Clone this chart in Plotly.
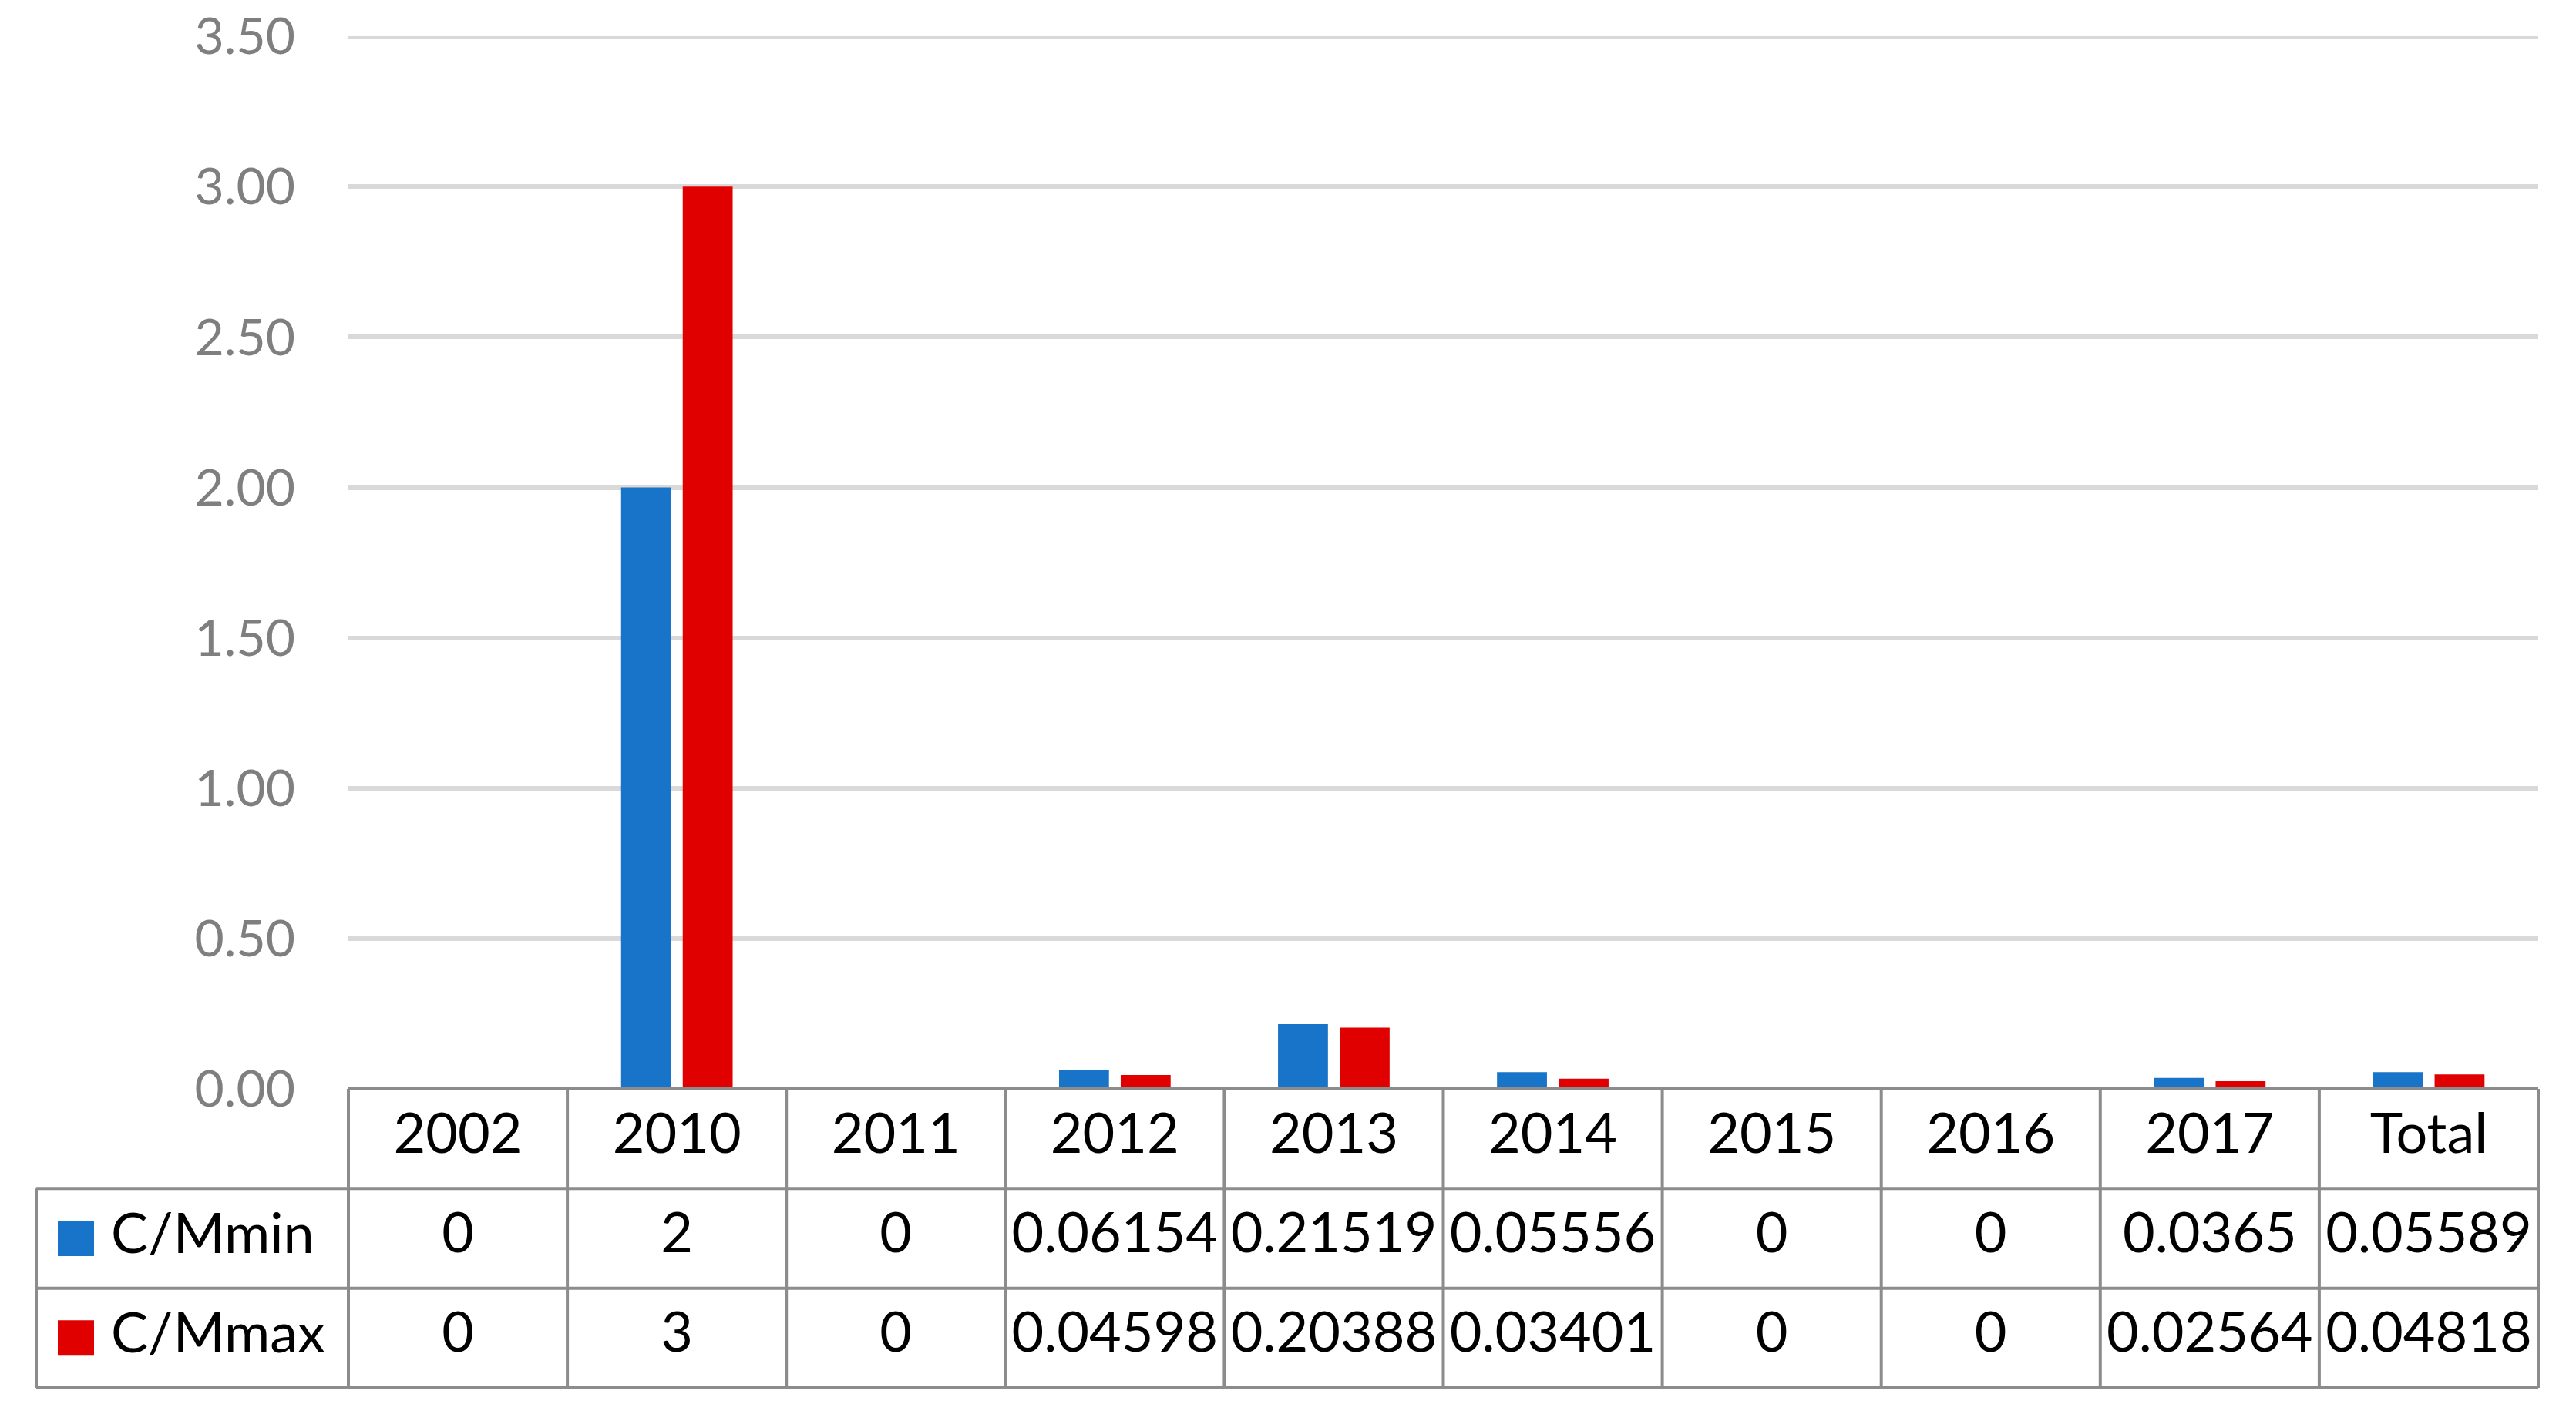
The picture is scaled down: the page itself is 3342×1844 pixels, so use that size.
import plotly.graph_objects as go

categories = ["2002", "2010", "2011", "2012", "2013", "2014", "2015", "2016", "2017", "Total"]
series_names = ["C/Mmin", "C/Mmax"]
cmin_values = [0, 2, 0, 0.06154, 0.21519, 0.05556, 0, 0, 0.0365, 0.05589]
cmax_values = [0, 3, 0, 0.04598, 0.20388, 0.03401, 0, 0, 0.02564, 0.04818]
y_ticks = [0, 0.5, 1.0, 1.5, 2.0, 2.5, 3.0, 3.5]

BLUE = "#1874C9"
RED = "#E00000"
GRID = "#D9D9D9"
BORDER = "#8C8C8C"
FONT = "Lato"

W, H = 3342, 1844
OFF = 8  # page body margin
ML, MR, MT, MB = 452 - OFF, 49 + OFF, 47 - OFF, 43 + OFF
plot_h = H - MT - MB
table_px = 388
split = table_px / plot_h
plot_w = W - ML - MR
left_col = (47 - 452) / plot_w  # left edge of legend column in x-domain units

fig = go.Figure()
series_vals = [cmin_values, cmax_values]
colors = [BLUE, RED]
for name, vals, col in zip(series_names, series_vals, colors):
    fig.add_trace(go.Bar(x=categories, y=vals, name=name, marker=dict(color=col, line=dict(width=0)),
                         xaxis="x", yaxis="y", showlegend=False))

def fmt(v):
    return f"{v:g}"

# table text: header and value rows
fig.add_trace(go.Scatter(x=categories, y=[2.5] * len(categories), text=categories, mode="text",
                         textfont=dict(family=FONT, size=72, color="black"), textposition="middle center",
                         xaxis="x", yaxis="y2", showlegend=False, cliponaxis=False, hoverinfo="skip"))
for row_y, vals in zip([1.5, 0.5], series_vals):
    fig.add_trace(go.Scatter(x=categories, y=[row_y] * len(categories), text=[fmt(v) for v in vals],
                             mode="text", textfont=dict(family=FONT, size=72, color="black"),
                             textposition="middle center", xaxis="x", yaxis="y2", showlegend=False,
                             cliponaxis=False, hoverinfo="skip"))

shapes = []
n = len(categories)
lw = 4
# top gridline at 3.50 (drawn explicitly since it sits on the plot edge)
shapes.append(dict(type="line", xref="x domain", yref="y", x0=0, x1=1, y0=y_ticks[-1], y1=y_ticks[-1],
                   line=dict(color=GRID, width=6), layer="below"))
# horizontal table lines
shapes.append(dict(type="line", xref="x domain", yref="y2 domain", x0=0, x1=1, y0=1, y1=1,
                   line=dict(color=BORDER, width=lw)))
for yy in [2 / 3, 1 / 3, 0]:
    shapes.append(dict(type="line", xref="x domain", yref="y2 domain", x0=left_col, x1=1, y0=yy, y1=yy,
                       line=dict(color=BORDER, width=lw)))
# vertical table lines
for i in range(n + 1):
    shapes.append(dict(type="line", xref="x domain", yref="y2 domain", x0=i / n, x1=i / n, y0=0, y1=1,
                       line=dict(color=BORDER, width=lw)))
shapes.append(dict(type="line", xref="x domain", yref="y2 domain", x0=left_col, x1=left_col, y0=0, y1=2 / 3,
                   line=dict(color=BORDER, width=lw)))

annotations = []
sq_x0 = (75 - 452) / plot_w
sq_x1 = (122 - 452) / plot_w
txt_x = (142 - 452) / plot_w
sq_h = 46 / table_px
for name, col, row_c in zip(series_names, colors, [0.5, 1 / 6]):
    shapes.append(dict(type="rect", xref="x domain", yref="y2 domain", x0=sq_x0, x1=sq_x1,
                       y0=row_c - sq_h / 2, y1=row_c + sq_h / 2, fillcolor=col, line=dict(width=0)))
    annotations.append(dict(text=name, xref="x domain", yref="y2 domain", x=txt_x, y=row_c,
                            xanchor="left", yanchor="middle", showarrow=False, yshift=9,
                            font=dict(family=FONT, size=72, color="black")))

fig.update_layout(
    width=W, height=H,
    margin=dict(l=ML, r=MR, t=MT, b=MB, pad=0, autoexpand=False),
    paper_bgcolor="white", plot_bgcolor="white",
    barmode="group", bargap=0.437, bargroupgap=0.19,
    font=dict(family=FONT),
    xaxis=dict(domain=[0, 1], anchor="y", range=[-0.5, n - 0.5], showticklabels=False, showgrid=False,
               zeroline=False, showline=False, ticks="", automargin=False),
    yaxis=dict(domain=[split, 1], range=[0, 3.5005], tickvals=y_ticks, tickformat=".2f",
               showgrid=True, gridcolor=GRID, gridwidth=6, zeroline=False, showline=False,
               tickfont=dict(family=FONT, size=66, color="#7F7F7F"), ticks="", ticklabelstandoff=68,
               ticklabeloverflow="allow", automargin=False),
    yaxis2=dict(domain=[0, split], range=[0, 3], visible=False, fixedrange=True, automargin=False),
    shapes=shapes,
    annotations=annotations,
)

fig.write_html("out.html")
